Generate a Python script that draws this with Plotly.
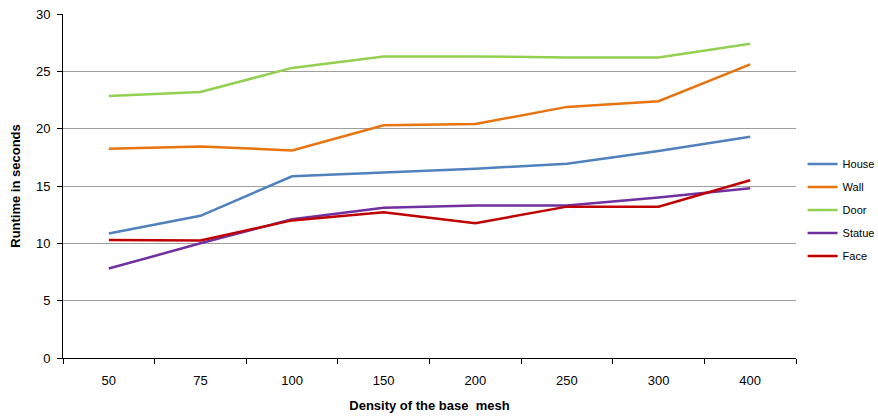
import plotly.graph_objects as go

categories = ["50", "75", "100", "150", "200", "250", "300", "400"]
house = [10.85, 12.4, 15.85, 16.2, 16.5, 16.95, 18.05, 19.3]
wall = [18.25, 18.45, 18.1, 20.3, 20.4, 21.9, 22.4, 25.6]
door = [22.85, 23.2, 25.3, 26.3, 26.3, 26.2, 26.2, 27.4]
statue = [7.8, 10.0, 12.1, 13.1, 13.3, 13.3, 14.0, 14.8]
face = [10.3, 10.25, 12.0, 12.7, 11.75, 13.2, 13.2, 15.5]

series = [
    ("House", house, "#4F81BD"),
    ("Wall", wall, "#E8730F"),
    ("Door", door, "#92D050"),
    ("Statue", statue, "#7030A0"),
    ("Face", face, "#C00000"),
]

fig = go.Figure()
for name, vals, color in series:
    fig.add_trace(go.Scatter(x=categories, y=vals, name=name, mode="lines",
                             legendgroup=name,
                             line=dict(color=color, width=2.5)))

fig.update_layout(
    width=878, height=420,
    margin=dict(l=63, r=82, t=14, b=62, autoexpand=False),
    plot_bgcolor="white", paper_bgcolor="white",
    font=dict(family="Liberation Sans, Arial, sans-serif", size=13, color="black"),
    legend=dict(x=1.009, y=0.43, yanchor="middle", xanchor="left",
                font=dict(size=11), itemwidth=30, tracegroupgap=4),
    xaxis=dict(
        type="category", range=[-0.5, 7.5],
        showline=True, linecolor="black", linewidth=1,
        ticks="outside", tickson="boundaries", ticklen=5, tickcolor="black",
        ticklabelstandoff=10,
        showgrid=False,
        title=dict(text="<b>Density of the base  mesh</b>", font=dict(size=13), standoff=14),
    ),
    yaxis=dict(
        range=[0, 30], tickvals=[0, 5, 10, 15, 20, 25, 30],
        showline=True, linecolor="black", linewidth=1,
        ticks="outside", ticklen=5, tickcolor="black",
        ticklabelstandoff=4,
        showgrid=True, gridcolor="#9E9E9E", gridwidth=1,
        zeroline=False,
        title=dict(text="<b>Runtime in seconds</b>", font=dict(size=13), standoff=12),
    ),
)

fig.write_html("out.html")
